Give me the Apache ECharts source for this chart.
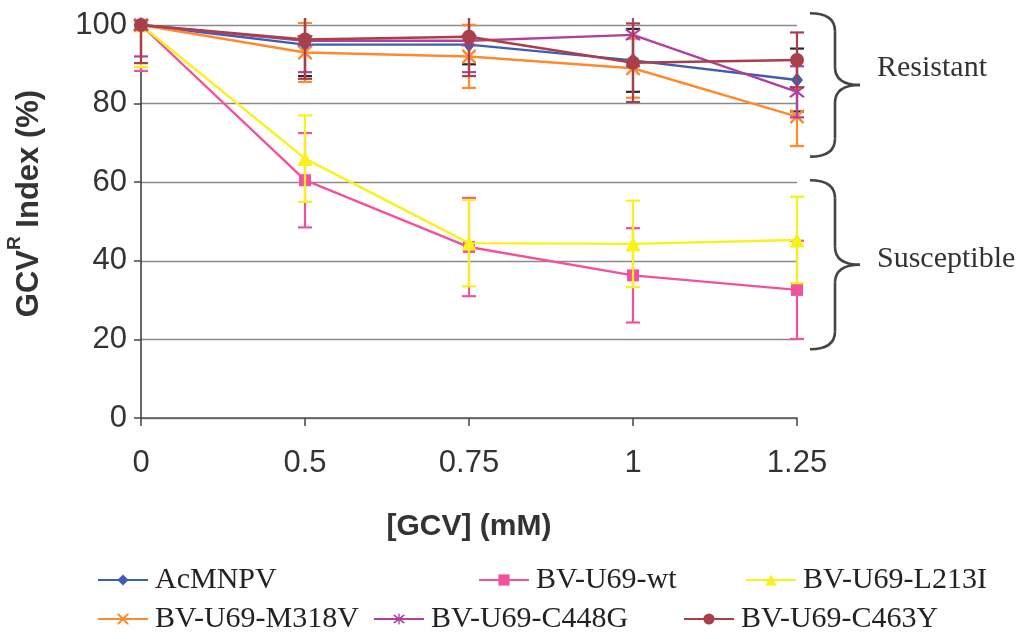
<!DOCTYPE html>
<html><head><meta charset="utf-8">
<script src="https://cdn.jsdelivr.net/npm/echarts@6/dist/echarts.min.js"></script>
<style>html,body{margin:0;padding:0;background:#fff}#c{width:1032px;height:637px}</style>
</head><body><div id="c"></div>
<script>
const categories = ['0', '0.5', '0.75', '1', '1.25'];
const yTicks = [0, 20, 40, 60, 80, 100];
const seriesNames = ['AcMNPV', 'BV-U69-wt', 'BV-U69-L213I', 'BV-U69-M318V', 'BV-U69-C448G', 'BV-U69-C463Y'];
const acmnpv = [100, 95, 95, 91, 86];
const acmnpvErr = [0, 8, 5, 8, 8];
const wt = [100, 60.5, 43.5, 36.3, 32.6];
const wtErr = [11.7, 12, 12.5, 12, 12.5];
const l213i = [100, 66, 44.5, 44.3, 45.3];
const l213iErr = [10.7, 11, 11, 11, 11];
const m318v = [100, 93, 92, 89, 76.7];
const m318vErr = [0, 7.5, 8, 7.5, 7.5];
const c448g = [100, 96, 96, 97.5, 83];
const c448gErr = [8, 8, 8, 8, 6.5];
const c463y = [100, 96.3, 97, 90.4, 91.1];
const c463yErr = [9.7, 10, 10, 10, 7];
const groups = [
  {name: 'Resistant', top: 103, bottom: 66.5, label: 89},
  {name: 'Susceptible', top: 60.5, bottom: 17.5, label: 40.5}
];

const xPath = 'path://M0,0 L2.5,0 L10,7.5 L17.5,0 L20,0 L20,2.5 L12.5,10 L20,17.5 L20,20 L17.5,20 L10,12.5 L2.5,20 L0,20 L0,17.5 L7.5,10 L0,2.5 Z';
const starPath = 'path://M0,0 L2.5,0 L10,7.5 L17.5,0 L20,0 L20,2.5 L12.5,10 L20,17.5 L20,20 L17.5,20 L10,12.5 L2.5,20 L0,20 L0,17.5 L7.5,10 L0,2.5 Z M8.8,-3 L11.2,-3 L11.2,23 L8.8,23 Z';

const defs = [
  {name: seriesNames[0], data: acmnpv, err: acmnpvErr, color: '#3D5DB5', errColor: '#2a2a2a', symbol: 'diamond', size: [12, 15]},
  {name: seriesNames[1], data: wt, err: wtErr, color: '#F2529C', errColor: '#F2529C', symbol: 'rect', size: 12},
  {name: seriesNames[2], data: l213i, err: l213iErr, color: '#F7F21A', errColor: '#F7F21A', symbol: 'triangle', size: 15},
  {name: seriesNames[3], data: m318v, err: m318vErr, color: '#FF8A2E', errColor: '#FF8A2E', symbol: xPath, size: 14},
  {name: seriesNames[4], data: c448g, err: c448gErr, color: '#B0409E', errColor: '#B0409E', symbol: starPath, size: 15},
  {name: seriesNames[5], data: c463y, err: c463yErr, color: '#A8404A', errColor: '#A8404A', symbol: 'circle', size: 14}
];

const chart = echarts.init(document.getElementById('c'));
const series = [];
defs.forEach((d, i) => {
  series.push({
    type: 'custom',
    name: d.name + ' err',
    z: 2 + i * 2,
    clip: false,
    renderItem: function (params, api) {
      const xi = api.value(0), v = api.value(1), e = api.value(2);
      if (!e) return null;
      const topLimit = api.coord([0, 100])[1] - 7;
      const hi = api.coord([xi, v + e]);
      const lo = api.coord([xi, v - e]);
      const hw = 7;
      const hy = Math.max(hi[1], topLimit);
      const style = {stroke: d.errColor, lineWidth: 2.2};
      const children = [
        {type: 'line', shape: {x1: lo[0], y1: lo[1], x2: lo[0], y2: hy}, style: style},
        {type: 'line', shape: {x1: lo[0] - hw, y1: lo[1], x2: lo[0] + hw, y2: lo[1]}, style: style}
      ];
      if (hi[1] >= topLimit) children.push({type: 'line', shape: {x1: hi[0] - hw, y1: hi[1], x2: hi[0] + hw, y2: hi[1]}, style: style});
      return {type: 'group', children: children};
    },
    data: d.data.map((v, k) => [k, v, d.err[k]])
  });
  series.push({
    type: 'line',
    name: d.name,
    z: 3 + i * 2,
    data: d.data,
    symbol: d.symbol,
    symbolSize: d.size,
    showAllSymbol: true,
    itemStyle: {color: d.color, opacity: 1},
    lineStyle: {color: d.color, width: 2.4},
    emphasis: {disabled: true},
    animation: false
  });
});

const legendPos = [
  [97, 565], [478, 565], [745, 565],
  [97, 604], [373, 604], [683, 604]
];
const legends = seriesNames.map((n, i) => ({
  data: [n],
  left: legendPos[i][0],
  top: legendPos[i][1],
  padding: 0,
  itemWidth: 50,
  itemHeight: 14,
  itemGap: 0,
  selectedMode: false,
  textStyle: {fontFamily: 'Liberation Serif', fontSize: 30, color: '#222', padding: [0, 0, 0, 2]}
}));

chart.setOption({
  animation: false,
  backgroundColor: '#fff',
  grid: {left: 141, right: 235, top: 25, bottom: 219, containLabel: false, outerBoundsMode: 'none'},
  legend: legends,
  xAxis: {
    type: 'category',
    data: categories,
    boundaryGap: false,
    axisLine: {lineStyle: {color: '#555', width: 1.5}},
    axisTick: {show: true, length: 8, alignWithLabel: true, lineStyle: {color: '#444', width: 1.5}},
    axisLabel: {fontFamily: 'Liberation Sans', fontSize: 31, color: '#333', margin: 30},
    name: '[GCV] (mM)',
    nameLocation: 'middle',
    nameGap: 94,
    nameTextStyle: {fontFamily: 'Liberation Sans', fontSize: 30, fontWeight: 'bold', color: '#333'}
  },
  yAxis: {
    type: 'value',
    min: 0, max: 100, interval: 20,
    axisLine: {show: true, lineStyle: {color: '#333', width: 1.5}},
    axisTick: {show: true, length: 7, lineStyle: {color: '#444', width: 1.5}},
    axisLabel: {fontFamily: 'Liberation Sans', fontSize: 31, color: '#333', margin: 14,
      formatter: function (v) { return yTicks.indexOf(v) >= 0 ? String(v) : ''; }},
    splitLine: {show: true, lineStyle: {color: '#8a8a8a', width: 1.3}},
    name: '{a|GCV}{s|R}{a| Index (%)}',
    nameLocation: 'middle',
    nameGap: 96,
    nameRotate: 90,
    nameTextStyle: {
      padding: [0, 0, 0, 36],
      rich: {
        a: {fontFamily: 'Liberation Sans', fontSize: 31, fontWeight: 'bold', color: '#333', lineHeight: 40, verticalAlign: 'bottom'},
        s: {fontFamily: 'Liberation Sans', fontSize: 19, fontWeight: 'bold', color: '#333', lineHeight: 40, verticalAlign: 'top', padding: [0, 0, 18, 0]}
      }
    }
  },
  series: series
});

function drawBraces() {
  const xRight = chart.convertToPixel({xAxisIndex: 0}, categories.length - 1);
  const x0 = xRight + 13, x1 = xRight + 38, x2 = xRight + 63;
  const r = 18;
  const st = {stroke: '#444', lineWidth: 2.6, fill: null};
  const g = [];
  groups.forEach(gr => {
    const yT = chart.convertToPixel({yAxisIndex: 0}, gr.top);
    const yB = chart.convertToPixel({yAxisIndex: 0}, gr.bottom);
    const yL = chart.convertToPixel({yAxisIndex: 0}, gr.label);
    const yM = (yT + yB) / 2;
    g.push({type: 'bezierCurve', shape: {x1: x0, y1: yT, cpx1: x1, cpy1: yT, x2: x1, y2: yT + r}, style: st, silent: true});
    g.push({type: 'line', shape: {x1: x1, y1: yT + r, x2: x1, y2: yM - r}, style: st, silent: true});
    g.push({type: 'bezierCurve', shape: {x1: x1, y1: yM - r, cpx1: x1, cpy1: yM, x2: x2, y2: yM}, style: st, silent: true});
    g.push({type: 'bezierCurve', shape: {x1: x2, y1: yM, cpx1: x1, cpy1: yM, x2: x1, y2: yM + r}, style: st, silent: true});
    g.push({type: 'line', shape: {x1: x1, y1: yM + r, x2: x1, y2: yB - r}, style: st, silent: true});
    g.push({type: 'bezierCurve', shape: {x1: x1, y1: yB - r, cpx1: x1, cpy1: yB, x2: x0, y2: yB}, style: st, silent: true});
    g.push({type: 'text', x: x2 + 17, y: yL, style: {text: gr.name, font: '30px "Liberation Serif"', fill: '#333', textVerticalAlign: 'middle'}, silent: true});
  });
  chart.setOption({graphic: g});
}
drawBraces();
</script>
</body></html>
